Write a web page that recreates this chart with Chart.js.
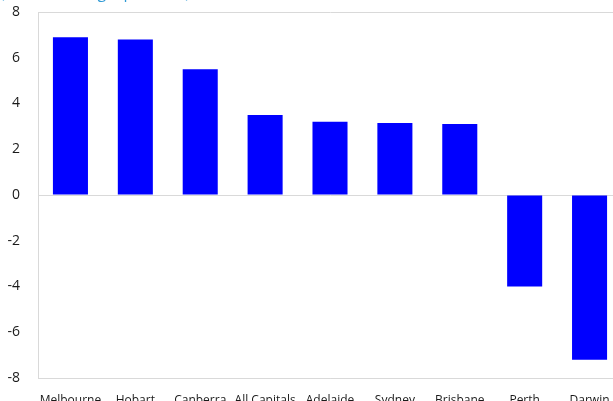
<!DOCTYPE html>
<html>
<head>
<meta charset="utf-8">
<script src="https://cdn.jsdelivr.net/npm/chart.js@4.4.1/dist/chart.umd.min.js"></script>
<style>
  html, body { margin: 0; padding: 0; background: #fff; overflow: hidden; }
  #wrap { position: absolute; left: 0; top: -20px; width: 625px; height: 441px; }
</style>
</head>
<body>
<div id="wrap"><canvas id="chart"></canvas></div>
<script>
// data
var cities = ["Melbourne", "Hobart", "Canberra", "All Capitals", "Adelaide", "Sydney", "Brisbane", "Perth", "Darwin"];
var change = [6.9, 6.8, 5.5, 3.5, 3.2, 3.15, 3.1, -4.0, -7.2];
var yTicks = [-8, -6, -4, -2, 0, 2, 4, 6, 8];
var subTitle = "(Annual change, per cent)";

var lineGrey = "#d9d9d9";

// title sits above the window, only its descenders show
var topText = {
  id: "topText",
  afterDraw: function(chart) {
    var ctx = chart.ctx;
    ctx.save();
    ctx.font = "16px 'Open Sans'";
    ctx.fillStyle = "#2f9ad5";
    ctx.textBaseline = "alphabetic";
    ctx.textAlign = "left";
    ctx.fillText(subTitle, 0, 18);
    ctx.restore();
  }
};

var ctx = document.getElementById("chart").getContext("2d");
var myChart = new Chart(ctx, {
  type: "bar",
  data: {
    labels: cities,
    datasets: [{
      data: change,
      backgroundColor: "#0000ff",
      borderWidth: 0,
      barPercentage: 0.54,
      categoryPercentage: 1
    }]
  },
  options: {
    responsive: true,
    maintainAspectRatio: false,
    animation: false,
    layout: { padding: { top: 32, right: 3, left: 0, bottom: 0 } },
    plugins: {
      legend: { display: false },
      title: { display: false },
      tooltip: { enabled: false }
    },
    scales: {
      x: {
        afterFit: function(scale) { scale.height = 43; },
        grid: { display: false, drawTicks: false },
        border: { display: true, color: lineGrey, width: 1 },
        ticks: {
          autoSkip: false,
          maxRotation: 0,
          padding: 15,
          color: "#1a1a1a",
          font: { family: "'Open Sans'", size: 12 }
        }
      },
      y: {
        min: -8,
        max: 8,
        afterFit: function(scale) { scale.width = 38; },
        afterBuildTicks: function(scale) {
          scale.ticks = yTicks.map(function(v) { return { value: v }; });
        },
        grid: {
          drawTicks: false,
          color: function(c) {
            var v = c.tick ? c.tick.value : null;
            return (v === 0 || v === 8 || v === -8) ? lineGrey : "rgba(0,0,0,0)";
          }
        },
        border: { display: true, color: lineGrey, width: 1 },
        ticks: {
          padding: 18,
          color: "#1a1a1a",
          font: { family: "'Open Sans'", size: 14 }
        }
      }
    }
  },
  plugins: [topText]
});
</script>
</body>
</html>
